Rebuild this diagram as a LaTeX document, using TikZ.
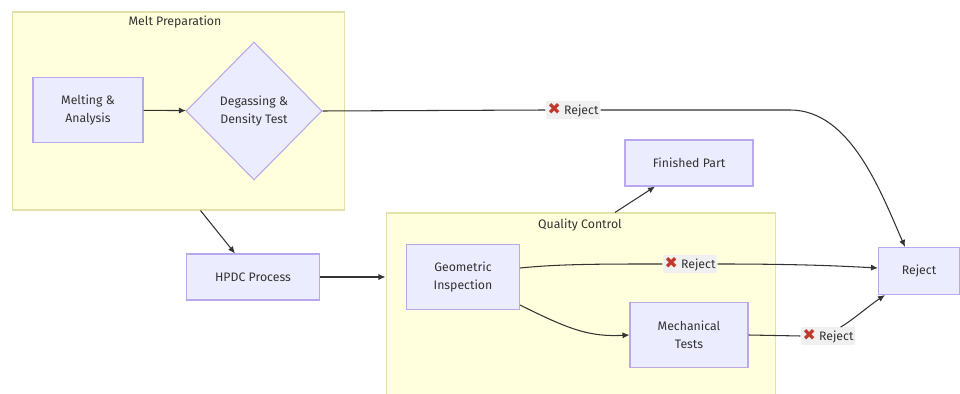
\documentclass[tikz,border=0pt]{standalone}
\usepackage{fontspec}
\setmainfont{Fira Sans}
\newfontfamily\symfont{DejaVu Sans}
\usetikzlibrary{positioning,shapes.geometric,arrows.meta}
\definecolor{nodefill}{HTML}{ECECFF}
\definecolor{nodeline}{HTML}{B9A9EC}
\definecolor{clusterfill}{HTML}{FFFFDE}
\definecolor{clusterline}{HTML}{E2E2A8}
\definecolor{edgeline}{HTML}{333333}
\definecolor{crossred}{HTML}{C0392B}
\tikzset{
  box/.style={draw=nodeline, fill=nodefill, line width=0.6pt, text=edgeline, align=center, font=\fontsize{7}{10}\selectfont},
  decision/.style={box, diamond, inner sep=0pt},
  cluster/.style={draw=clusterline, fill=clusterfill, line width=0.6pt},
  clustertitle/.style={text=edgeline, font=\fontsize{7}{9}\selectfont},
  edge/.style={draw=edgeline, line width=0.6pt},
  flow/.style={edge, -{Latex[length=4pt,width=3.5pt]}},
  rejectlabel/.style={fill=gray!12, inner sep=1pt, text=edgeline, font=\fontsize{7}{9}\selectfont}
}
\newcommand{\rejecttext}{{\symfont\color{crossred}\fontsize{9}{9}\selectfont ✖} Reject}

\begin{document}
\begin{tikzpicture}[x=0.02cm, y=-0.02cm]
  \useasboundingbox (0,0) rectangle (960,394);

  % clusters
  \node [cluster, minimum width=6.66cm, minimum height=3.96cm] (melt) at (178.5,111) {};
  \node [clustertitle] (meltTitle) at (175,22) {Melt Preparation};
  \node [cluster, minimum width=7.8cm, minimum height=3.7cm] (qc) at (581,305.5) {};
  \node [clustertitle] (qcTitle) at (580,225) {Quality Control};

  % nodes
  \node [box, minimum width=2.2cm, minimum height=1.3cm] (melting) at (88,110) {Melting \&\\Analysis};
  \node [decision, minimum width=2.72cm, minimum height=2.76cm] (degas) at (254,111) {Degassing \&\\Density Test};
  \node [box, minimum width=2.66cm, minimum height=0.92cm] (hpdc) at (253,277) {HPDC Process};
  \node [box, minimum width=2.26cm, minimum height=1.3cm] (geo) at (463,277) {Geometric\\Inspection};
  \node [box, minimum width=2.56cm, minimum height=0.92cm] (finished) at (689,163) {Finished Part};
  \node [box, minimum width=2.36cm, minimum height=1.3cm] (mech) at (689,335) {Mechanical\\Tests};
  \node [box, minimum width=1.62cm, minimum height=0.94cm] (reject) at (919,271) {Reject};

  % edge labels
  \node [rejectlabel] (rejA) at (573,110) {\rejecttext};
  \node [rejectlabel] (rejB) at (690,264) {\rejecttext};
  \node [rejectlabel] (rejC) at (828,336) {\rejecttext};

  % edges
  \draw [flow] (melting) -- (degas);
  \draw [edge] (degas.east) -- (rejA.west);
  \draw [flow] (rejA.east) -- (790,110) .. controls (850,110) and (880,190) .. ([xshift=-0.28cm]reject.north);
  \draw [flow] ([xshift=0.44cm]melt.south) -- ([xshift=-0.36cm]hpdc.north);
  \draw [flow] (hpdc) -- (qc.west |- hpdc);
  \draw [flow] ([xshift=0.68cm]qc.north) -- ([xshift=-0.68cm]finished.south);
  \draw [edge] ([yshift=0.18cm]geo.east) .. controls (560,264) and (600,264) .. (rejB.west);
  \draw [flow] (rejB.east) .. controls (800,264) and (840,266) .. ([yshift=0.06cm]reject.west);
  \draw [flow] ([yshift=-0.56cm]geo.east) .. controls (570,330) and (590,337) .. (mech.west);
  \draw [edge] (mech.east) -- (rejC.west);
  \draw [flow] ([xshift=-0.3cm]rejC.north east) .. controls (850,322) and (870,305) .. ([xshift=-0.68cm]reject.south);
\end{tikzpicture}
\end{document}
